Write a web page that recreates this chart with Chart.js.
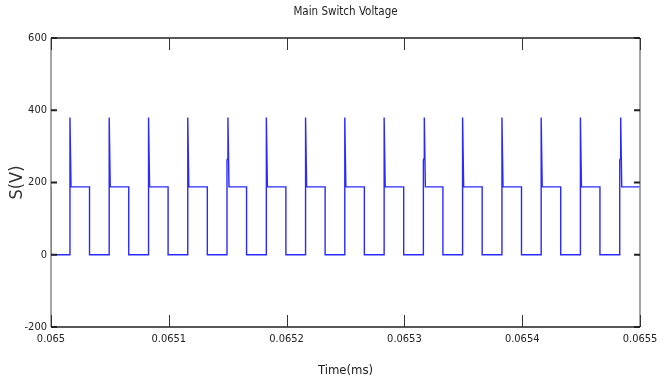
<!DOCTYPE html>
<html>
<head>
<meta charset="utf-8">
<script src="https://cdn.jsdelivr.net/npm/chart.js@4.4.0/dist/chart.umd.min.js"></script>
<style>
  html, body { margin: 0; padding: 0; background: #fff; }
  #box { width: 666px; height: 383px; }
</style>
</head>
<body>
<div id="box"><canvas id="switchChart"></canvas></div>
<script>
// time axis (ms) and switch voltage (V)
const timeMs = [
    0.065, 0.065,
    0.0650161, 0.0650161, 0.0650170, 0.0650327, 0.0650327,
    0.0650494, 0.0650494, 0.0650503, 0.0650660, 0.0650660,
    0.0650828, 0.0650828, 0.0650837, 0.0650994, 0.0650994,
    0.0651161, 0.0651161, 0.0651170, 0.0651327, 0.0651327,
    0.0651494, 0.0651494, 0.0651502, 0.0651502, 0.0651511, 0.0651660, 0.0651660,
    0.0651828, 0.0651828, 0.0651837, 0.0651994, 0.0651994,
    0.0652161, 0.0652161, 0.0652170, 0.0652327, 0.0652327,
    0.0652494, 0.0652494, 0.0652503, 0.0652660, 0.0652660,
    0.0652828, 0.0652828, 0.0652837, 0.0652994, 0.0652994,
    0.0653161, 0.0653161, 0.0653169, 0.0653169, 0.0653178, 0.0653327, 0.0653327,
    0.0653494, 0.0653494, 0.0653503, 0.0653660, 0.0653660,
    0.0653828, 0.0653828, 0.0653837, 0.0653994, 0.0653994,
    0.0654161, 0.0654161, 0.0654170, 0.0654327, 0.0654327,
    0.0654494, 0.0654494, 0.0654503, 0.0654660, 0.0654660,
    0.0654828, 0.0654828, 0.0654836, 0.0654836, 0.0654845, 0.0655
];
const voltage = [
    188, 0,
    0, 380, 188, 188, 0,
    0, 380, 188, 188, 0,
    0, 380, 188, 188, 0,
    0, 380, 188, 188, 0,
    0, 262, 268, 380, 188, 188, 0,
    0, 380, 188, 188, 0,
    0, 380, 188, 188, 0,
    0, 380, 188, 188, 0,
    0, 380, 188, 188, 0,
    0, 262, 268, 380, 188, 188, 0,
    0, 380, 188, 188, 0,
    0, 380, 188, 188, 0,
    0, 380, 188, 188, 0,
    0, 380, 188, 188, 0,
    0, 262, 268, 380, 188, 188
];

const xTicks = [0.065, 0.0651, 0.0652, 0.0653, 0.0654, 0.0655];
const yTicks = [-200, 0, 200, 400, 600];

const points = timeMs.map((t, i) => ({x: t, y: voltage[i]}));
const fontName = "'Liberation Sans Narrow', 'DejaVu Sans Condensed', 'Liberation Sans', sans-serif";

// matlab style box with inward ticks
const framePlugin = {
    id: 'frame',
    afterDatasetsDraw(chart) {
        const ctx = chart.ctx;
        const a = chart.chartArea;
        const xs = chart.scales.x, ys = chart.scales.y;
        ctx.save();
        ctx.lineWidth = 1.5;
        ctx.strokeStyle = '#888';
        ctx.beginPath();
        ctx.moveTo(a.left, a.top); ctx.lineTo(a.left, a.bottom);
        ctx.moveTo(a.right, a.top); ctx.lineTo(a.right, a.bottom);
        ctx.stroke();
        ctx.strokeStyle = '#222';
        ctx.beginPath();
        ctx.moveTo(a.left, a.top); ctx.lineTo(a.right, a.top);
        ctx.moveTo(a.left, a.bottom); ctx.lineTo(a.right, a.bottom);
        ctx.stroke();
        ctx.lineWidth = 1;
        ctx.strokeStyle = '#333';
        ctx.beginPath();
        xTicks.forEach(v => {
            const px = Math.round(xs.getPixelForValue(v)) + 0.5;
            ctx.moveTo(px, a.bottom); ctx.lineTo(px, a.bottom - 12);
            ctx.moveTo(px, a.top); ctx.lineTo(px, a.top + 12);
        });
        ctx.stroke();
        ctx.lineWidth = 2;
        ctx.strokeStyle = '#222';
        ctx.beginPath();
        yTicks.forEach(v => {
            const py = ys.getPixelForValue(v);
            ctx.moveTo(a.left, py); ctx.lineTo(a.left + 6, py);
            ctx.moveTo(a.right, py); ctx.lineTo(a.right - 6, py);
        });
        ctx.stroke();
        ctx.restore();
    }
};

new Chart("switchChart", {
    type: "line",
    data: {
        datasets: [{
            data: points,
            borderColor: "#2a2aff",
            borderWidth: 1.4,
            pointRadius: 0,
            tension: 0,
            fill: false
        }]
    },
    options: {
        responsive: true,
        maintainAspectRatio: false,
        animation: false,
        layout: { padding: { left: 0, right: 26, top: 0, bottom: 0 } },
        plugins: {
            legend: { display: false },
            tooltip: { enabled: false },
            title: {
                display: true,
                fullSize: false,
                text: "Main Switch Voltage",
                color: "#222",
                font: { family: fontName, size: 11.5, weight: 'normal' },
                padding: { top: 5, bottom: 19.2 }
            }
        },
        scales: {
            x: {
                type: 'linear',
                min: 0.065,
                max: 0.0655,
                grid: { display: false, drawTicks: false },
                border: { display: false },
                afterFit(scale) { scale.height = 56; },
                afterBuildTicks(scale) { scale.ticks = xTicks.map(v => ({value: v})); },
                ticks: {
                    color: "#222",
                    padding: 6,
                    maxRotation: 0,
                    font: { family: fontName, size: 11 },
                    callback: v => String(parseFloat(Number(v).toFixed(4)))
                },
                title: {
                    display: true,
                    text: "Time(ms)",
                    color: "#222",
                    font: { family: fontName, size: 13 },
                    padding: { top: 0, bottom: 5 }
                }
            },
            y: {
                min: -200,
                max: 600,
                grid: { display: false, drawTicks: false },
                border: { display: false },
                afterFit(scale) { scale.width = 51; },
                afterBuildTicks(scale) { scale.ticks = yTicks.map(v => ({value: v})); },
                ticks: {
                    color: "#222",
                    padding: 4,
                    font: { family: fontName, size: 11 }
                },
                title: {
                    display: true,
                    text: "S(V)",
                    color: "#333",
                    font: { family: fontName, size: 18 },
                    padding: { top: 7, bottom: 0 }
                }
            }
        }
    },
    plugins: [framePlugin]
});
</script>
</body>
</html>
